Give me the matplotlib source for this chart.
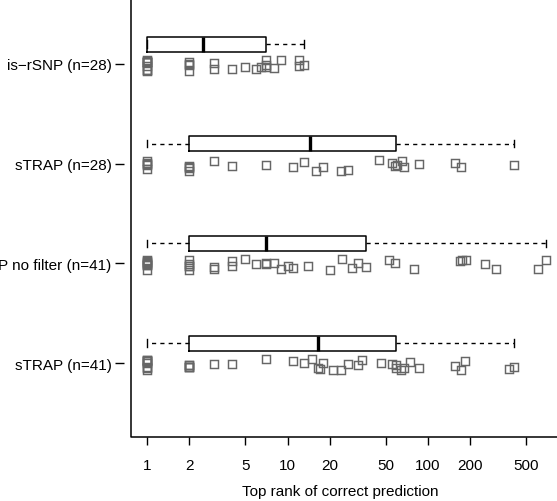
import numpy as np
import matplotlib
matplotlib.use("Agg")
import matplotlib.pyplot as plt

# ---- data (bottom to top) ----
labels = ["sTRAP (n=41)", "sTRAP no filter (n=41)", "sTRAP (n=28)", "is\u2212rSNP (n=28)"]

strap41 = [1]*9 + [2]*5 + [3, 4, 7, 11, 13, 15, 16.5, 17, 18, 21, 24, 27, 32, 34, 46,
                           55, 59, 59, 64, 68, 75, 86, 155, 172, 184, 375, 410]
strap_nofilter = [1]*8 + [2]*5 + [3, 3, 4, 4, 5, 6, 7, 7, 8, 9, 10, 11, 14, 20, 24.5, 29,
                                  32, 36, 53, 58, 80, 169, 175, 186, 255, 303, 605, 690]
strap28 = [1]*5 + [2]*4 + [3, 4, 7, 11, 13, 16, 18, 24, 27, 45, 55, 58, 60, 65, 68, 86,
                           155, 172, 410]
isrsnp = [1]*10 + [2]*4 + [3, 3, 4, 5, 6, 6.5, 7, 7, 7, 8, 9, 12, 12, 13]

groups = [strap41, strap_nofilter, strap28, isrsnp]
xticks = [1, 2, 5, 10, 20, 50, 100, 200, 500]
xlabel = "Top rank of correct prediction"


def fivenum(x):
    x = np.sort(np.asarray(x, float))
    n = len(x)
    n4 = np.floor((n + 3) / 2) / 2
    d = np.array([1, n4, (n + 1) / 2, n + 1 - n4, n]) - 1
    return 0.5 * (x[np.floor(d).astype(int)] + x[np.ceil(d).astype(int)])


plt.rcParams['font.family'] = ['Liberation Sans', 'DejaVu Sans']

W, H = 557, 502
fig = plt.figure(figsize=(W / 100, H / 100), dpi=100)
left_px, bottom_px = 124, 438
line_px = 131
ax = fig.add_axes([left_px / W, (H - bottom_px) / H, (W - left_px) / W, bottom_px / H])

ax.set_xscale('log')

stats = []
for g in groups:
    lo, q1, med, q3, hi = fivenum(g)
    stats.append(dict(whislo=lo, q1=q1, med=med, q3=q3, whishi=hi, fliers=[]))

box_off = 0.2
bw = 0.15
positions = [i + 1 + box_off for i in range(len(groups))]
ax.bxp(stats, positions=positions, vert=False, widths=bw, showfliers=False,
       capwidths=bw * 0.5,
       boxprops=dict(color='black', linewidth=1.1),
       medianprops=dict(color='black', linewidth=2.4, solid_capstyle='butt'),
       whiskerprops=dict(color='black', linewidth=1.0, linestyle=(0, (3, 3))),
       capprops=dict(color='black', linewidth=1.0))

rng = np.random.default_rng(7)
for i, g in enumerate(groups):
    y = (i + 1 - 0.015) + rng.uniform(-0.06, 0.06, len(g))
    ax.plot(g, y, linestyle='none', marker='s', markersize=5.6,
            markerfacecolor='none', markeredgecolor='#666666', markeredgewidth=1.05)

ax.set_xlim(10 ** (-(147 - left_px) / 140.5), 10 ** ((W - 147) / 140.5))
ax.set_ylim(1 - 74 / 99.7, 4 + 65 / 99.7)

ax.set_xticks(xticks)
ax.set_xticklabels([str(t) for t in xticks])
ax.xaxis.set_minor_locator(matplotlib.ticker.NullLocator())
ax.set_yticks([1, 2, 3, 4])
ax.set_yticklabels(labels)

for s in ['top', 'right', 'left', 'bottom']:
    ax.spines[s].set_visible(False)

# L-shaped frame (left line set slightly inside the y-tick origin)
fx = (line_px - left_px) / (W - left_px)
ax.plot([fx, fx, 1.0], [1.0, 0.0, 0.0], transform=ax.transAxes, color='black',
        linewidth=1.1, clip_on=False, solid_capstyle='projecting', zorder=5)

ax.tick_params(axis='x', direction='out', length=6, width=1.0, pad=9, labelsize=11,
               colors='black')
ax.tick_params(axis='y', direction='out', length=6.5, width=1.0, pad=2.5, labelsize=11,
               colors='black')
ax.set_xlabel(xlabel, fontsize=11, labelpad=9)

fig.savefig("out.png", dpi=100)
